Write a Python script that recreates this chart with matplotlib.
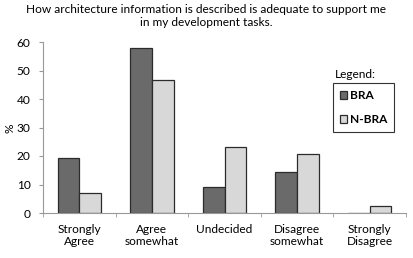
import matplotlib
matplotlib.use("Agg")
import matplotlib.pyplot as plt
import numpy as np

categories = ["Strongly\nAgree", "Agree\nsomewhat", "Undecided", "Disagree\nsomewhat", "Strongly\nDisagree"]
bra = [19.2, 58.0, 9.2, 14.4, 0]
nbra = [7.1, 46.5, 23.3, 20.8, 2.3]
series_names = ["BRA", "N-BRA"]
title = "How architecture information is described is adequate to support me\nin my development tasks."
yticks = [0, 10, 20, 30, 40, 50, 60]

plt.rcParams['font.family'] = ['Lato', 'DejaVu Sans']
fs = 8.6

fig = plt.figure(figsize=(4.13, 2.58), dpi=100)
W, H = 413, 258
ax = fig.add_axes([43 / W, 1 - 213 / H, (406 - 43) / W, (213 - 42) / H])

x = np.arange(len(categories))
bw = 0.3
ax.bar(x - bw / 2, bra, bw, color="#6a6a6a", edgecolor="#2b2b2b", linewidth=0.9, label=series_names[0])
ax.bar(x + bw / 2, nbra, bw, color="#d8d8d8", edgecolor="#2b2b2b", linewidth=0.9, label=series_names[1])

ax.set_xlim(-0.5, len(categories) - 0.5)
ax.set_ylim(0, 60)
ax.set_yticks(yticks)
ax.set_yticklabels([str(t) for t in yticks], fontsize=fs)
ax.set_xticks(x)
ax.set_xticklabels(categories, fontsize=fs, linespacing=1.15)
ax.tick_params(axis='x', length=0, pad=8)
ax.set_xticks(np.arange(-0.5, len(categories), 1.0), minor=True)
ax.tick_params(axis='x', which='minor', length=3, color="#999999", direction='out')
ax.tick_params(axis='y', length=3, color="#999999", direction='out', pad=6)
for s in ["top", "right"]:
    ax.spines[s].set_visible(False)
for s in ["left", "bottom"]:
    ax.spines[s].set_color("#999999")
    ax.spines[s].set_linewidth(0.8)

fig.text(10 / W, 1 - 128 / H, "%", fontsize=fs, ha="center", va="center", rotation=90)
fig.text(206 / W, 1 - 16 / H, title, fontsize=fs, ha="center", va="center", linespacing=1.15)

fig.text(335 / W, 1 - 74 / H, "Legend:", fontsize=fs, ha="left", va="center")
leg = ax.legend(loc="upper left", bbox_to_anchor=((333 - 43) / (406 - 43), (213 - 83) / (213 - 42)),
                frameon=True, handlelength=0.6, handleheight=0.6, handletextpad=0.2,
                labelspacing=1.1, borderpad=0.6, borderaxespad=0, fancybox=False,
                prop={'weight': 'bold', 'size': fs})
leg.get_frame().set_edgecolor("#000000")
leg.get_frame().set_linewidth(0.8)

fig.savefig("out.png", dpi=100)
